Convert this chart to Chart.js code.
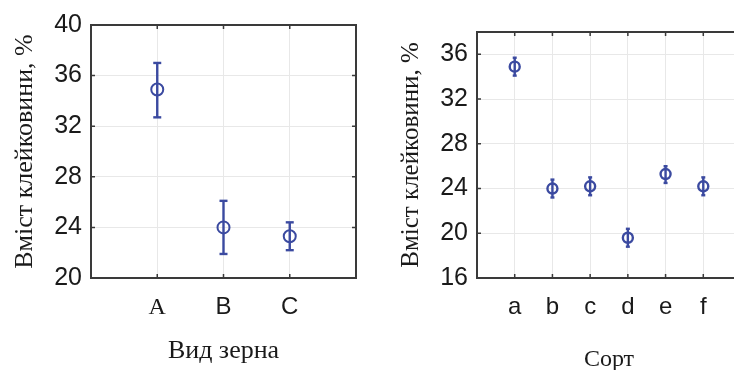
<!DOCTYPE html>
<html>
<head>
<meta charset="utf-8">
<script src="https://cdn.jsdelivr.net/npm/chart.js@4/dist/chart.umd.min.js"></script>
<style>
  html, body { margin: 0; padding: 0; background: #fff; overflow: hidden; }
  #wrap { width: 734px; height: 370px; overflow: hidden; position: relative; }
  canvas { position: absolute; top: 0; }
  #grainChart { left: 0; width: 370px; height: 370px; }
  #sortChart { left: 370px; width: 380px; height: 370px; }
</style>
</head>
<body>
<div id="wrap">
<canvas id="grainChart" width="370" height="370"></canvas>
<canvas id="sortChart" width="380" height="370"></canvas>
</div>
<script>
// Вид зерна
const grainLabels = ['A', 'B', 'C'];
const grainMean = [34.9, 24.0, 23.3];
const grainLow = [32.7, 21.9, 22.2];
const grainHigh = [37.0, 26.1, 24.4];

// Сорт
const sortLabels = ['a', 'b', 'c', 'd', 'e', 'f'];
const sortMean = [34.9, 24.0, 24.2, 19.6, 25.3, 24.2];
const sortLow = [34.1, 23.2, 23.4, 18.8, 24.5, 23.4];
const sortHigh = [35.7, 24.8, 25.0, 20.4, 26.0, 25.0];

const blue = '#3b4aa0';
const frameColor = '#3a3a3a';
const gridColor = '#e8e8e8';

function toPoints(vals) {
    return vals.map((v, i) => ({ x: i + 1, y: v }));
}

function whiskers(lows, highs) {
    const pts = [];
    for (let i = 0; i < lows.length; i++) {
        pts.push({ x: i + 1, y: lows[i] });
        pts.push({ x: i + 1, y: highs[i] });
        pts.push({ x: i + 1, y: null });
    }
    return pts;
}

// frame around the plot + short inward ticks
const framePlugin = {
    id: 'frame',
    afterDraw(chart) {
        const { ctx, chartArea: a, scales } = chart;
        ctx.save();
        ctx.strokeStyle = frameColor;
        ctx.lineWidth = 1.5;
        scales.y.ticks.forEach(t => {
            const y = scales.y.getPixelForValue(t.value);
            ctx.beginPath();
            ctx.moveTo(a.left, y); ctx.lineTo(a.left + 4, y);
            ctx.moveTo(a.right, y); ctx.lineTo(a.right - 4, y);
            ctx.stroke();
        });
        scales.x.ticks.forEach(t => {
            if (t.value < 1 || t.value > chart.options.nCats) return;
            const x = scales.x.getPixelForValue(t.value);
            ctx.beginPath();
            ctx.moveTo(x, a.bottom); ctx.lineTo(x, a.bottom - 4);
            ctx.moveTo(x, a.top); ctx.lineTo(x, a.top + 4);
            ctx.stroke();
        });
        ctx.lineWidth = 2;
        ctx.strokeRect(a.left, a.top, a.right - a.left, a.bottom - a.top);
        ctx.restore();
    }
};

function makeChart(id, cfg) {
    const n = cfg.labels.length;
    return new Chart(document.getElementById(id), {
        type: 'scatter',
        data: {
            datasets: [
                {
                    data: toPoints(cfg.mean),
                    pointStyle: 'circle',
                    pointRadius: cfg.markerR,
                    pointBorderWidth: cfg.markerW,
                    borderColor: blue,
                    backgroundColor: 'rgba(0,0,0,0)'
                },
                {
                    data: whiskers(cfg.low, cfg.high),
                    showLine: true,
                    spanGaps: false,
                    borderColor: blue,
                    borderWidth: cfg.barW,
                    pointStyle: 'line',
                    pointRadius: cfg.capR,
                    pointBorderWidth: cfg.barW,
                    pointBorderColor: blue
                }
            ]
        },
        options: {
            responsive: false,
            animation: false,
            nCats: n,
            layout: { padding: { top: cfg.top, right: cfg.right, left: 0, bottom: 0 } },
            plugins: { legend: { display: false }, tooltip: { enabled: false } },
            scales: {
                x: {
                    type: 'linear',
                    min: 0,
                    max: cfg.xMax,
                    afterFit(s) {
                        s.height = 92;
                        s.paddingLeft = 0;
                        s.paddingRight = 0;
                    },
                    afterBuildTicks(s) {
                        s.ticks = [];
                        for (let i = 0; i <= n + 1; i++) s.ticks.push({ value: i });
                    },
                    grid: { color: gridColor, lineWidth: 1, drawTicks: false },
                    border: { display: false },
                    ticks: {
                        padding: 15,
                        color: '#1a1a1a',
                        font: (c) => ({
                            family: c.tick && c.tick.value === 1 && cfg.serifFirst ? 'Liberation Serif' : 'Liberation Sans',
                            size: 24
                        }),
                        callback: (v) => cfg.labels[v - 1] || ''
                    },
                    title: {
                        display: true,
                        text: cfg.xTitle,
                        color: '#1a1a1a',
                        font: { family: 'Liberation Serif', size: cfg.xTitleSize },
                        padding: { top: 0, bottom: cfg.xTitlePad }
                    }
                },
                y: {
                    min: cfg.yMin,
                    max: cfg.yMax,
                    afterFit(s) { s.width = cfg.yWidth; },
                    grid: { color: gridColor, lineWidth: 1, drawTicks: false },
                    border: { display: false },
                    ticks: {
                        stepSize: 2,
                        padding: 9,
                        color: '#1a1a1a',
                        font: { family: 'Liberation Sans', size: 25 },
                        callback: (v) => ((v - cfg.yMin) % 4 === 0 ? v : '')
                    },
                    title: {
                        display: true,
                        text: 'Вміст клейковини, %',
                        color: '#1a1a1a',
                        font: { family: 'Liberation Serif', size: cfg.yTitleSize },
                        padding: { top: cfg.yTitlePad, bottom: 0 }
                    }
                }
            }
        },
        plugins: [framePlugin]
    });
}

makeChart('grainChart', {
    labels: grainLabels, mean: grainMean, low: grainLow, high: grainHigh,
    xMax: 4, yMin: 20, yMax: 40, yWidth: 91, top: 25, right: 14,
    markerR: 6, markerW: 2, barW: 2.4, capR: 4,
    xTitle: 'Вид зерна', xTitleSize: 26, xTitlePad: 3, yTitleSize: 26, yTitlePad: 10, serifFirst: true
});

makeChart('sortChart', {
    labels: sortLabels, mean: sortMean, low: sortLow, high: sortHigh,
    xMax: 7, yMin: 16, yMax: 38, yWidth: 107, top: 32, right: 9,
    markerR: 5, markerW: 2.4, barW: 2.4, capR: 2,
    xTitle: 'Сорт', xTitleSize: 24, xTitlePad: -4, yTitleSize: 25, yTitlePad: 26, serifFirst: false
});
</script>
</body>
</html>
